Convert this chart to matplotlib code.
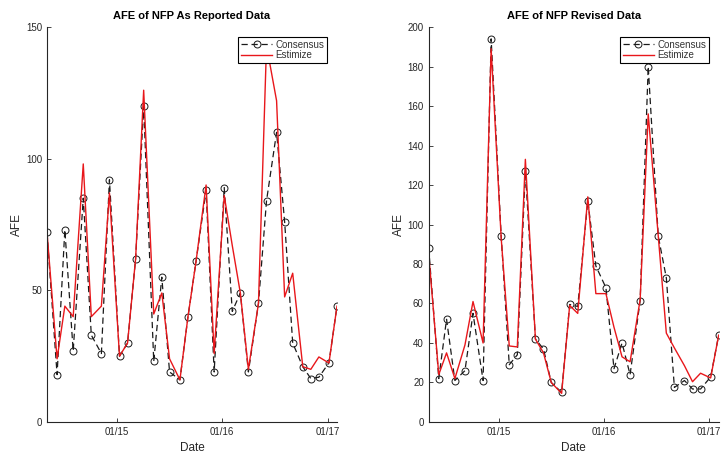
import datetime as dt
import matplotlib
matplotlib.use("Agg")
import matplotlib.pyplot as plt
import matplotlib.dates as mdates

# Fechas de publicacion del NFP (mayo 2014 - febrero 2017)
release_dates = [
    "2014-05-02", "2014-06-06", "2014-07-03", "2014-08-01", "2014-09-05",
    "2014-10-03", "2014-11-07", "2014-12-05",
    "2015-01-09", "2015-02-06", "2015-03-06", "2015-04-03", "2015-05-08",
    "2015-06-05", "2015-07-02", "2015-08-07", "2015-09-04", "2015-10-02",
    "2015-11-06", "2015-12-04",
    "2016-01-08", "2016-02-05", "2016-03-04", "2016-04-01", "2016-05-06",
    "2016-06-03", "2016-07-08", "2016-08-05", "2016-09-02", "2016-10-07",
    "2016-11-04", "2016-12-02",
    "2017-01-06", "2017-02-03",
]

# AFE con datos tal como se publicaron
reported_consensus = [72, 18, 73, 27, 85, 33, 26, 92, 25, 30, 62, 120,
                      23, 55, 19, 16, 40, 61, 88, 19, 89, 42, 49, 19,
                      45, 84, 110, 76, 30, 21, 16.5, 17, 22.5, 44]
reported_estimize = [72, 24, 44, 40, 98, 40, 44, 87, 25, 30, 62, 126,
                     41, 49, 24, 16, 40, 61, 90, 26, 86, 67, 49, 20,
                     45, 143, 122, 47.5, 56.5, 21, 20, 24.7, 22.4, 44]

# AFE con datos revisados
revised_consensus = [88, 22, 52, 21, 26, 55, 21, 194, 94, 29, 34, 127,
                     42, 37, 20, 15, 59.5, 58.5, 112, 79, 68, 27, 40, 24,
                     61.5, 180, 94, 73, 17.5, 21, 16.7, 16.7, 22.8, 44]
revised_estimize = [85, 24, 35, 22, 39, 61, 40, 189, 93, 38.5, 38, 133,
                    42, 35, 20, 14.5, 59, 55, 114, 65, 65, 48, 33, 30.5,
                    62, 156, 94, 45, 37.5, 28.5, 20.4, 24.7, 22.3, 44]

dates = [dt.datetime.strptime(d, "%Y-%m-%d") for d in release_dates]
year_ticks = [dt.datetime(2015, 1, 1), dt.datetime(2016, 1, 1), dt.datetime(2017, 1, 1)]

plt.rcParams['font.family'] = ['Liberation Sans', 'DejaVu Sans']
axis_gray = '#262626'

fig = plt.figure(figsize=(7.21, 4.54), dpi=100)
ax1 = fig.add_axes([0.0652, 0.0705, 0.4022, 0.870])
ax2 = fig.add_axes([0.5946, 0.0705, 0.4022, 0.870])


def draw_panel(ax, consensus, estimize, title, ymax, yticks):
    ax.plot(dates, consensus, color='#1a1a1a', linestyle=(0, (5, 3)), lw=0.9,
            marker='o', markersize=5, markerfacecolor='none',
            markeredgecolor='#1a1a1a', markeredgewidth=0.7, label='Consensus')
    ax.plot(dates, estimize, color='#e8171b', lw=1, label='Estimize')
    ax.set_xlim(dates[0], dates[-1])
    ax.set_ylim(0, ymax)
    ax.set_yticks(yticks)
    ax.set_xticks(year_ticks)
    ax.xaxis.set_major_formatter(mdates.DateFormatter('%m/%y'))
    ax.set_title(title, fontsize=8, fontweight='bold', pad=6)
    ax.set_xlabel('Date', fontsize=8.5, color=axis_gray, labelpad=4)
    ax.set_ylabel('AFE', fontsize=8.5, color=axis_gray, labelpad=2)
    ax.spines['top'].set_visible(False)
    ax.spines['right'].set_visible(False)
    for s in ('left', 'bottom'):
        ax.spines[s].set_color(axis_gray)
        ax.spines[s].set_linewidth(0.8)
    ax.tick_params(direction='in', length=3, width=0.6, colors=axis_gray,
                   labelsize=7)
    leg = ax.legend(loc='upper right', fontsize=7, frameon=True,
                    fancybox=False, borderpad=0.3, handlelength=3.2,
                    labelspacing=0.05, borderaxespad=1.0, handletextpad=0.35,
                    labelcolor='#333333')
    leg.get_frame().set_edgecolor('black')
    leg.get_frame().set_linewidth(0.8)
    leg.get_frame().set_alpha(1)


draw_panel(ax1, reported_consensus, reported_estimize,
           'AFE of NFP As Reported Data', 150, [0, 50, 100, 150])
draw_panel(ax2, revised_consensus, revised_estimize,
           'AFE of NFP Revised Data', 200, list(range(0, 201, 20)))

fig.savefig('out.png', dpi=100)
